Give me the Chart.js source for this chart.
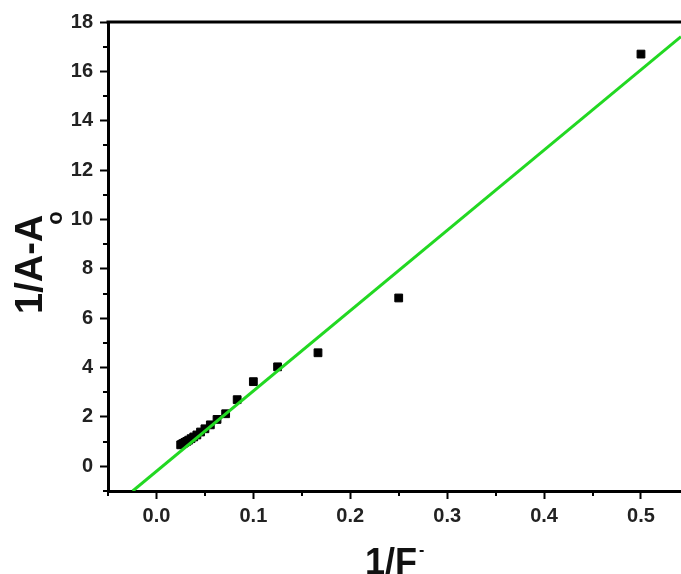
<!DOCTYPE html>
<html>
<head>
<meta charset="utf-8">
<script src="https://cdn.jsdelivr.net/npm/chart.js@4.4.1/dist/chart.umd.min.js"></script>
<style>
  html, body { margin: 0; padding: 0; background: #fff; overflow: hidden; }
  #wrap { width: 681px; height: 574px; position: relative; }
</style>
</head>
<body>
<div id="wrap"><canvas id="c" width="681" height="574"></canvas></div>
<script>
// Data
const invF = [0.5, 0.25, 0.1667, 0.125, 0.1, 0.0833, 0.0714, 0.0625, 0.0556, 0.05, 0.0455, 0.0417, 0.0385, 0.0357, 0.0333, 0.0313, 0.0294, 0.0278, 0.0263, 0.025];
const invDA = [16.7, 6.82, 4.6, 4.03, 3.43, 2.70, 2.13, 1.90, 1.68, 1.52, 1.39, 1.27, 1.19, 1.12, 1.06, 1.01, 0.97, 0.93, 0.90, 0.87];
// Fitted line endpoints
const fitX = [-0.0245, 0.5413];
const fitY = [-1, 17.41];
// Axis ranges and ticks
const xRange = [-0.05, 0.5413];
const yRange = [-1, 18];
const xMinorTicks = [-0.05, 0.05, 0.15, 0.25, 0.35, 0.45];
const yMinorTicks = [-1, 1, 3, 5, 7, 9, 11, 13, 15, 17];

const FONT = '"Liberation Sans", Arial, sans-serif';

const extras = {
  id: 'extras',
  afterDraw(chart) {
    const ctx = chart.ctx;
    const a = chart.chartArea;
    const xs = chart.scales.x, ys = chart.scales.y;
    ctx.save();
    // top border
    ctx.strokeStyle = '#000';
    ctx.lineWidth = 3;
    ctx.beginPath();
    ctx.moveTo(a.left - 1.5, a.top);
    ctx.lineTo(a.right, a.top);
    ctx.stroke();
    // minor ticks
    ctx.lineWidth = 2;
    ctx.beginPath();
    yMinorTicks.forEach(v => {
      const p = Math.round(ys.getPixelForValue(v));
      ctx.moveTo(a.left - 5, p);
      ctx.lineTo(a.left, p);
    });
    xMinorTicks.forEach(v => {
      const p = Math.round(xs.getPixelForValue(v));
      ctx.moveTo(p, a.bottom);
      ctx.lineTo(p, a.bottom + 5);
    });
    ctx.stroke();
    // axis titles
    ctx.fillStyle = '#111';
    ctx.textAlign = 'left';
    ctx.textBaseline = 'alphabetic';
    ctx.font = 'bold 36px ' + FONT;
    const xt = '1/F';
    const w = ctx.measureText(xt).width;
    const x0 = 365;
    ctx.fillText(xt, x0, 574);
    ctx.font = 'bold 16px ' + FONT;
    ctx.fillText('-', x0 + w + 2, 555);
    // y title rotated
    ctx.save();
    ctx.translate(42, 314);
    ctx.rotate(-Math.PI / 2);
    ctx.font = 'bold 38px ' + FONT;
    ctx.fillText('1/A-A', 0, 0);
    const wy = ctx.measureText('1/A-A').width;
    ctx.font = 'bold 22px ' + FONT;
    ctx.fillText('o', wy - 10, 20);
    ctx.restore();
    ctx.restore();
  }
};

new Chart(document.getElementById('c'), {
  type: 'scatter',
  data: {
    datasets: [
      {
        type: 'line',
        data: fitX.map((x, i) => ({ x: x, y: fitY[i] })),
        borderColor: '#22d822',
        borderWidth: 3,
        pointRadius: 0,
        fill: false,
        order: 0
      },
      {
        data: invF.map((x, i) => ({ x: x, y: invDA[i] })),
        pointStyle: 'rect',
        pointRadius: 5.5,
        backgroundColor: '#000',
        borderColor: '#000',
        borderWidth: 1,
        order: 1
      }
    ]
  },
  options: {
    responsive: false,
    animation: false,
    events: [],
    layout: { autoPadding: false, padding: { top: 22, left: 0, right: 0, bottom: 0 } },
    plugins: { legend: { display: false }, tooltip: { enabled: false } },
    scales: {
      x: {
        type: 'linear',
        min: xRange[0],
        max: xRange[1],
        afterFit(s) { s.height = 83; s.paddingRight = 0; s.paddingLeft = 0; },
        grid: { drawOnChartArea: false, drawTicks: true, tickLength: 8, tickWidth: 2, tickColor: '#000' },
        border: { display: true, width: 3, color: '#000' },
        ticks: {
          stepSize: 0.1,
          includeBounds: false,
          padding: 5,
          color: '#222',
          font: { family: FONT, size: 20, weight: 'bold' },
          maxRotation: 0,
          callback: v => Number(v).toFixed(1)
        }
      },
      y: {
        type: 'linear',
        min: yRange[0],
        max: yRange[1],
        afterFit(s) { s.width = 108; s.paddingTop = 0; s.paddingBottom = 0; },
        grid: { drawOnChartArea: false, drawTicks: true, tickLength: 8, tickWidth: 2, tickColor: '#000' },
        border: { display: true, width: 3, color: '#000' },
        ticks: {
          stepSize: 2,
          includeBounds: false,
          padding: 7,
          color: '#222',
          font: { family: FONT, size: 20, weight: 'bold' },
          callback: v => String(Math.round(v))
        }
      }
    }
  },
  plugins: [extras]
});
</script>
</body>
</html>
